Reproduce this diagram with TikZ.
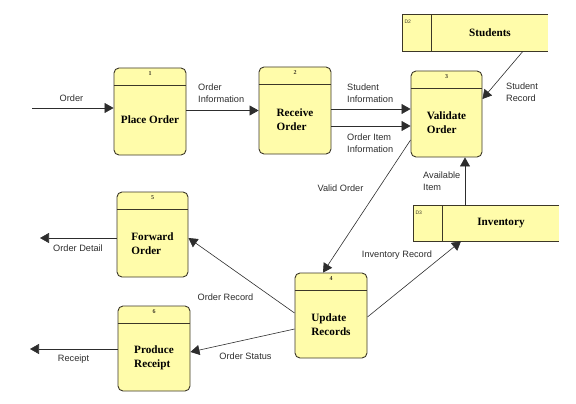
\documentclass[tikz,border=0pt]{standalone}
\usepackage{fontspec}
\setmainfont{Liberation Serif}
\setsansfont{Liberation Sans}
\usetikzlibrary{arrows.meta,calc}
\definecolor{boxfill}{RGB}{255,252,170}
\definecolor{boxline}{RGB}{60,55,40}
\definecolor{txt}{RGB}{45,45,45}
\tikzset{
  proc/.style={draw=boxline, line width=0.9pt, fill=boxfill, rounded corners=5pt, inner sep=0pt},
  procline/.style={draw=boxline, line width=0.9pt},
  num/.style={font=\fontsize{6}{6}\selectfont\bfseries, text=boxline, inner sep=0pt},
  ptitle/.style={font=\fontsize{11.2}{14}\selectfont\bfseries, text=black, align=left, inner sep=0pt},
  storefill/.style={fill=boxfill, inner sep=0pt},
  storeline/.style={draw=boxline, line width=0.9pt},
  snum/.style={font=\sffamily\fontsize{5}{5}\selectfont, text=boxline, inner sep=0pt},
  flow/.style={draw=txt, line width=0.6pt, -{Triangle[length=9pt,width=10pt]}},
  lbl/.style={font=\sffamily\fontsize{9.2}{12.4}\selectfont, text=txt, align=left, inner sep=0pt},
}
\begin{document}
\begin{tikzpicture}[x=1pt,y=-1pt]
\useasboundingbox (0,0) rectangle (576,404);
% processes
\node[proc, minimum width=72pt, minimum height=87pt] (p1) at (150,111.5) {};
\node[proc, minimum width=72pt, minimum height=87pt] (p2) at (295,110.5) {};
\node[proc, minimum width=71pt, minimum height=86pt] (p3) at (446.5,114) {};
\node[proc, minimum width=72pt, minimum height=85pt] (p4) at (331,315.5) {};
\node[proc, minimum width=71pt, minimum height=85pt] (p5) at (152.5,234.5) {};
\node[proc, minimum width=72pt, minimum height=85pt] (p6) at (154,348.5) {};
\foreach \p/\n in {p1/1,p2/2,p3/3,p4/4,p5/5,p6/6}{
  \draw[procline] ([yshift=-17.5pt]\p.north west) -- ([yshift=-17.5pt]\p.north east);
  \node[num] (\p n) at ([yshift=-6pt]\p.north) {\n};
}
\node[ptitle] (t1) at (150,120) {Place Order};
\node[ptitle] (t2) at (295,119.5) {Receive\\Order};
\node[ptitle] (t3) at (446.5,123) {Validate\\Order};
\node[ptitle] (t4) at (331,324.5) {Update\\Records};
\node[ptitle] (t5) at (152.5,244) {Forward\\Order};
\node[ptitle] (t6) at (154,358) {Produce\\Receipt};
% data stores
\node[storefill, minimum width=145pt, minimum height=36pt] (s2) at (475.5,33) {};
\draw[storeline] (s2.north east) -- (s2.north west) -- (s2.south west) -- (s2.south east);
\draw[storeline] ([xshift=29pt]s2.north west) -- ([xshift=29pt]s2.south west);
\node[snum, anchor=north west] (s2n) at ([xshift=1.5pt,yshift=-5pt]s2.north west) {D2};
\node[ptitle] (s2t) at (490,33) {Students};
\node[storefill, minimum width=145pt, minimum height=35pt] (s3) at (486.5,223.5) {};
\draw[storeline] (s3.north east) -- (s3.north west) -- (s3.south west) -- (s3.south east);
\draw[storeline] ([xshift=29pt]s3.north west) -- ([xshift=29pt]s3.south west);
\node[snum, anchor=north west] (s3n) at ([xshift=1.5pt,yshift=-5pt]s3.north west) {D3};
\node[ptitle] (s3t) at (501,223) {Inventory};
% free ends
\coordinate (cin) at (32,108);
\coordinate (cdet) at (40,238);
\coordinate (crec) at (30,349);
% flows
\draw[flow] (cin) -- (p1.west |- cin);
\draw[flow] (p1.east |- 0,110.5) -- (p2.west |- 0,110.5);
\draw[flow] (p2.east |- 0,109) -- (p3.west |- 0,109);
\draw[flow] (p2.east |- 0,126) -- (p3.west |- 0,126);
\draw[flow] (s2.south west -| 523,0) -- (p3.east |- 0,99);
\draw[flow] (s3.north west -| 465,0) -- (p3.south west -| 465,0);
\draw[flow] (p3.west |- 0,140) -- (p4.north west -| 323,0);
\draw[flow] (p4.east |- 0,317) -- (s3.south west -| 461,0);
\draw[flow] (p4.west |- 0,313) -- (p5.east |- 0,238);
\draw[flow] (p4.west |- 0,329) -- (p6.east |- 0,352);
\draw[flow] (p5.west |- cdet) -- (cdet);
\draw[flow] (p6.west |- crec) -- (crec);
% labels
\node[lbl] (l1) at (71.5,98.5) {Order};
\node[lbl, anchor=west] (l2) at (198,93.5) {Order\\Information};
\node[lbl, anchor=west] (l3) at (347,93.5) {Student\\Information};
\node[lbl, anchor=west] (l4) at (347,143) {Order Item\\Information};
\node[lbl, anchor=west] (l5) at (506,92.5) {Student\\Record};
\node[lbl, anchor=west] (l6) at (423,181) {Available\\Item};
\node[lbl] (l7) at (340.5,188) {Valid Order};
\node[lbl] (l8) at (397,255) {Inventory Record};
\node[lbl] (l9) at (225.5,297) {Order Record};
\node[lbl] (l10) at (245.5,356) {Order Status};
\node[lbl] (l11) at (78,248) {Order Detail};
\node[lbl] (l12) at (73.5,359) {Receipt};
\end{tikzpicture}
\end{document}
